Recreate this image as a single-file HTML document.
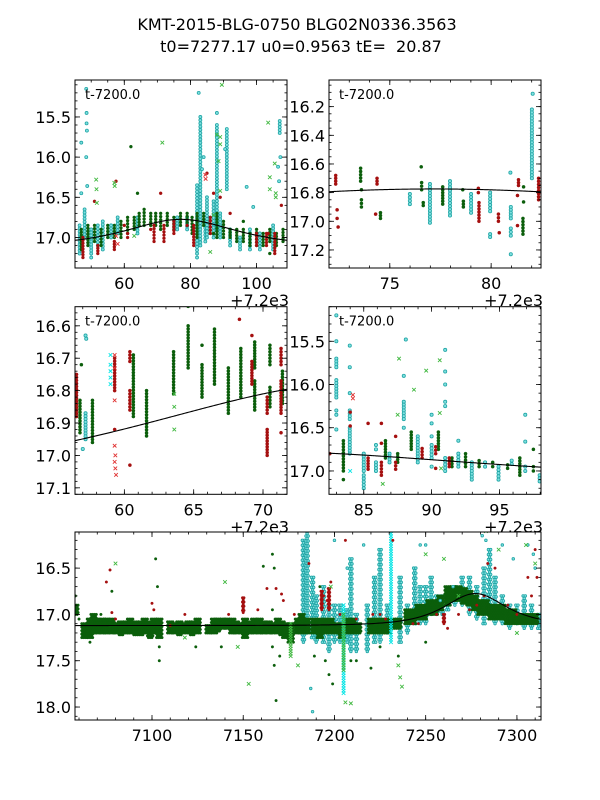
<!DOCTYPE html>
<html><head><meta charset="utf-8"><style>
body{margin:0;background:#fff}
svg{display:block}
text{font-family:"DejaVu Sans","Liberation Sans",sans-serif;fill:#000}
</style></head><body>
<svg id="chart" width="600" height="800" viewBox="0 0 600 800" xmlns="http://www.w3.org/2000/svg">
<rect width="600" height="800" fill="#fff"/>
<text x="297" y="30" font-size="16" text-anchor="middle">KMT-2015-BLG-0750 BLG02N0336.3563</text>
<text x="301" y="52" font-size="16" text-anchor="middle" xml:space="preserve">t0=7277.17 u0=0.9563 tE=  20.87</text>
</svg>
<script>
// model parameters
const t0 = 7277.17, u0 = 0.9563, tE = 20.87, mBase = 17.12;

// ---------- Panel 1 data (t-7200) ----------
const p1GreenStrips = [[47,16.9,17.15],[49,16.85,17.1],[51,16.85,17.05],[53,16.9,17.1],[55,16.85,17.0],[57,16.85,17.0],[59,16.8,17.0],[61,16.75,16.95],[63,16.75,16.9],[64.5,16.7,16.85],[66,16.65,16.85],[68,16.7,16.85],[69.5,16.7,16.85],[71,16.7,16.9],[73,16.7,16.85],[75,16.75,16.9],[77,16.7,16.85],[79,16.7,16.85],[80.5,16.75,16.95],[82,16.7,17.0],[84,16.7,16.85],[86,16.75,16.95],[88,16.7,17.0],[90,16.8,17.0],[92,16.9,17.0],[94,16.9,17.05],[96,16.9,17.05],[98,16.95,17.1],[100,16.9,17.1],[102,16.95,17.1],[104,16.9,17.05],[106,16.95,17.1],[108,16.9,17.05]];
const p1CyanStrips = [[46.5,16.85,17.2],[48,16.65,17.0],[50,16.9,17.2],[52,16.85,17.1],[53.5,16.8,17.15],[56,16.85,17.0],[58,16.75,16.95],[64,16.75,16.95],[76,16.75,16.9],[79,16.75,16.9],[82,16.35,17.2],[83,15.5,17.1],[84.5,16.8,17.05],[85,16.5,17.0],[87,16.55,17.0],[88,15.6,16.9],[89,16.7,17.0],[91,15.65,16.4],[92,16.9,17.1],[95,17.0,17.15],[98,16.9,17.15],[101,16.95,17.15],[105,16.85,17.15],[107,15.55,15.7]];
const p1CyanPts = [[47,15.82],[47,16.45],[48.5,15.15],[48.6,15.45],[48.6,15.58],[48.7,15.67],[48.5,16.0],[48.8,16.36],[56,16.85],[82.5,15.2],[84,16.0],[83.5,16.15],[88,15.45],[90.5,15.9],[97,16.37],[99,16.62],[106.5,16.12],[106.8,16.3],[107.2,16.0],[82,17.25],[50,17.25]];
const p1RedStrips = [[47.5,17.0,17.25],[57,17.05,17.15],[61,16.95,17.0],[69,16.85,17.05],[72,16.85,17.05],[75,16.8,16.95],[81,16.85,17.1],[86,16.75,16.95],[100,16.95,17.1],[103,16.95,17.1],[105.5,16.95,17.2],[52,17.1,17.2]];
const p1RedPts = [[51,16.55],[57.5,16.3],[60,16.85],[68,16.9],[71,16.45],[79,16.85],[85,16.2],[87,16.45],[89,16.5],[92,16.7],[103.5,16.95],[107.5,16.6]];
const p1RedX = [[57.5,16.98],[58,17.08],[84.5,16.22],[84.6,16.27]];
const p1GreenPts = [[62,15.87],[64,16.45],[87,16.95],[96,16.8],[104,17.2]];
const p1GreenX = [[51.5,16.28],[51.6,16.4],[51.7,16.57],[57,16.32],[57.1,16.36],[71.5,15.82],[88,15.72],[89,15.75],[89.5,15.1],[89,15.84],[88.5,16.05],[87,16.72],[89,16.42],[104,16.25],[104,16.4],[105.5,16.08],[105.8,16.45],[105.8,16.5],[86,17.18],[63,16.98],[103.5,15.57]];

// ---------- Panel 2 data ----------
const p2RedStrips = [[72.33,16.68,16.74],[74.37,16.70,16.74],[79.37,16.77,16.8],[79.4,16.87,17.0],[80.36,16.95,17.0],[81.35,16.71,16.75],[82.34,16.7,16.85]];
const p2RedPts = [[72.4,16.92],[72.4,16.98],[72.45,17.04],[74.3,16.95],[80.4,17.08],[81.3,16.82],[81.3,17.03]];
const p2GreenStrips = [[73.56,16.63,16.72],[73.6,16.85,16.9],[74.54,16.94,16.98],[76.57,16.73,16.78],[76.65,16.87,16.89],[77.61,16.76,16.88],[78.63,16.86,16.9],[81.57,16.98,17.09]];
const p2GreenPts = [[73.6,16.78],[76.55,16.62],[78.6,16.78],[81.6,16.76],[81.6,16.865]];
const p2CyanStrips = [[75.99,16.81,16.88],[76.98,16.74,17.01],[77.97,16.72,16.96],[79.01,16.81,16.94],[79.95,16.8,16.93],[79.95,17.09,17.11],[80.97,16.9,16.98],[80.97,17.05,17.1],[82.01,16.22,16.7]];
const p2CyanPts = [[80.95,16.66],[80.97,17.23],[82.05,16.11]];

// ---------- Panel 3 data ----------
const p3GreenStrips = [[56.8,16.83,16.93],[57.7,16.83,16.96],[60.65,16.69,16.88],[61.6,16.80,16.94],[63.55,16.68,16.81],[64.6,16.6,16.73],[65.6,16.72,16.82],[66.5,16.61,16.78],[67.5,16.73,16.87],[68.4,16.67,16.82],[69.4,16.65,16.73],[69.4,16.77,16.86],[70.5,16.66,16.72],[70.5,16.79,16.85],[71.4,16.74,16.84]];
const p3GreenPts = [[56.9,16.72],[65.6,16.66],[64.6,16.54]];
const p3GreenX = [[63.6,16.81],[63.6,16.85],[63.6,16.92]];
const p3RedStrips = [[56.55,16.75,16.88],[59.3,16.7,16.8],[60.4,16.68,16.71],[60.4,16.80,16.86],[69.2,16.71,16.78],[70.3,16.82,16.87],[70.3,16.92,17.0],[71.3,16.67,16.72],[71.3,16.77,16.87]];
const p3RedPts = [[59.3,16.92],[60.4,17.03],[69.2,16.63],[68.3,16.58],[71.3,16.93]];
const p3RedX = [[59.3,16.83],[59.3,16.97],[59.35,17.0],[59.3,17.02],[59.35,17.04],[59.4,17.06],[59.3,16.69],[59.3,16.73]];
const p3CyanStrips = [[57.2,16.87,16.95]];
const p3CyanPts = [[57.2,16.63],[57.25,16.64],[57.0,16.98]];
const p3BrightX = [[59.0,16.69],[59.0,16.72],[59.0,16.74],[59.0,16.76],[59.0,16.78]];

// ---------- Panel 4 data ----------
const p4CyanStrips = [[82.98,15.7,15.8],[82.98,15.95,16.15],[82.98,16.3,16.35],[83.97,16.3,16.4],[83.97,16.5,16.8],[85,16.8,17.0],[85,17.05,17.2],[85.9,16.7,16.75],[85.9,16.9,17.0],[86.9,16.8,16.9],[87.95,16.2,16.4],[88.98,16.6,16.9],[90,16.7,16.85],[91.0,16.2,16.25],[91.0,16.85,17.0],[91.97,16.8,16.95],[92.96,16.9,17.1],[93.94,16.9,16.95],[94.93,16.95,17.1],[95.9,16.88,16.92],[96.9,16.95,17.0],[97.96,17.05,17.12]];
const p4CyanPts = [[82.98,15.2],[82.98,15.5],[82.98,16.52],[83.97,15.55],[83.97,15.8],[83.97,16.1],[87.95,15.9],[87.95,16.5],[88.1,15.48],[90,16.35],[90,16.45],[90,16.6],[90,16.95],[91.0,15.6],[91.0,15.85],[91.0,16.0],[91.97,16.65],[96.9,16.35],[96.9,16.66]];
const p4GreenStrips = [[83.5,16.65,17.0],[86.6,16.65,16.85],[87.5,16.8,16.9],[88.5,16.55,16.75],[90.5,16.55,16.75],[91.5,16.85,16.95],[92.5,16.8,16.95],[93.5,16.88,16.95],[94.5,16.9,16.95],[95.6,16.93,16.97],[96.5,16.85,17.05],[97.5,16.95,17.0]];
const p4GreenPts = [[83.5,17.1],[97.5,16.75]];
const p4RedStrips = [[85.32,16.85,16.98],[86.3,16.9,17.05],[87.35,16.9,16.98],[89.3,16.74,16.85],[90.3,16.72,16.8],[91.3,16.85,16.95]];
const p4RedPts = [[85.32,16.45],[86.3,16.68],[86.3,16.45],[87.35,16.6],[90.3,16.97],[84.0,16.32],[84.0,16.48],[82.5,16.8]];
const p4RedX = [[84.2,16.12],[84.2,16.16]];
const p4GreenX = [[87.6,15.7],[89.5,15.05],[88.7,16.06],[89.6,15.84],[90.6,15.72],[90.6,16.33],[87.5,16.35],[86.4,17.15],[90.7,16.97]];
const p4BrightX = [[84.0,17.0]];

// ---------- Panel 5 data (full light curve, HJD') ----------
const p5GreenStrips = [[7058,16.9,17.0],[7063,17.1,17.25],[7066,17.05,17.25],[7068,17.0,17.2],[7070,17.05,17.2],[7073,17.05,17.2],[7075,17.05,17.2],[7078,17.05,17.2],[7080,17.1,17.2],[7083,17.08,17.22],[7086,17.08,17.2],[7088,17.05,17.2],[7091,17.08,17.22],[7094,17.08,17.22],[7096,17.05,17.2],[7099,17.08,17.25],[7101,17.05,17.2],[7104,17.05,17.25],[7110,17.08,17.2],[7112,17.1,17.2],[7115,17.08,17.22],[7117,17.1,17.2],[7120,17.08,17.2],[7122,17.08,17.22],[7125,17.05,17.2],[7131,17.12,17.2],[7134,17.05,17.2],[7136,17.05,17.18],[7139,17.05,17.15],[7141,17.05,17.15],[7144,17.05,17.2],[7146,17.08,17.2],[7149,17.1,17.2],[7151,17.05,17.25],[7154,17.08,17.2],[7156,17.05,17.2],[7159,17.05,17.2],[7161,17.08,17.2],[7164,17.08,17.2],[7166,17.1,17.2],[7169,17.05,17.2],[7171,17.08,17.22],[7173,17.1,17.25],[7176,17.1,17.3],[7180,17.05,17.2],[7182,17.0,17.2],[7185,17.05,17.2],[7189,17.05,17.2],[7192,17.05,17.25],[7195,17.05,17.2],[7198,17.05,17.2],[7201,17.1,17.2],[7204,17.1,17.25],[7207,17.05,17.2],[7210,17.05,17.2],[7213,17.1,17.2],[7220,17.05,17.2],[7223,17.05,17.2],[7226,17.05,17.2],[7229,17.05,17.2],[7232,17.05,17.15],[7235,17.05,17.15],[7240,16.95,17.1],[7243,16.95,17.1],[7246,16.9,17.05],[7249,16.9,17.05],[7252,16.85,17.0],[7255,16.85,17.0],[7258,16.8,16.95],[7262,16.7,16.9],[7265,16.7,16.85],[7268,16.7,16.85],[7271,16.72,16.88],[7274,16.75,16.9],[7277,16.8,16.95],[7280,16.85,17.0],[7283,16.85,17.0],[7286,16.9,17.05],[7289,16.9,17.05],[7292,16.9,17.05],[7295,16.95,17.1],[7298,16.95,17.1],[7301,17.0,17.1],[7304,17.0,17.1],[7307,17.0,17.1],[7310,17.0,17.1]];
const p5CyanStrips = [[7183,16.2,17.3],[7185,16.1,17.2],[7188,16.6,17.25],[7190,16.8,17.3],[7194,16.7,17.3],[7197,16.9,17.4],[7200,16.9,17.3],[7203,16.9,17.3],[7207,16.95,17.3],[7209,16.4,17.4],[7212,17.0,17.4],[7218,16.9,17.4],[7222,16.6,17.3],[7225,16.3,17.3],[7229,16.9,17.2],[7236,16.6,17.3],[7240,16.9,17.2],[7244,16.5,17.1],[7247,16.7,17.1],[7250,16.7,17.1],[7253,16.6,17.0],[7256,16.8,17.0],[7259,16.8,17.0],[7262,16.8,16.95],[7266,16.7,16.9],[7270,16.6,16.9],[7274,16.6,17.0],[7278,16.7,17.05],[7282,16.5,17.1],[7285,16.3,17.0],[7288,16.6,17.1],[7292,16.8,17.1],[7296,16.9,17.15],[7300,16.9,17.1],[7304,16.8,17.15],[7308,16.9,17.15],[7312,17.0,17.15]];
const p5CyanPts = [[7187,17.8],[7188,18.05],[7207,16.5],[7201,17.05],[7200,16.2],[7216,16.25],[7247,16.25],[7250,16.25],[7258,16.85],[7265,16.7],[7281,16.15],[7283,16.2],[7292,16.25],[7298,16.4],[7306,16.25],[7309,16.35],[7310,16.5]];
const p5BrightStrips = [[7205,16.9,17.85],[7231,16.1,17.3]];
const p5LightGreenStrips = [[7205,17.0,17.6],[7176,17.1,17.45]];
const p5RedStrips = [[7193,16.75,16.95],[7197,16.72,16.95],[7260,17.0,17.1],[7150,16.82,16.98]];
const p5RedPts = [[7075,16.65],[7077,16.52],[7078,16.98],[7080,17.05],[7100,16.88],[7101,16.95],[7110,17.12],[7118,17.0],[7142,17.0],[7158,16.95],[7163,16.72],[7168,16.72],[7171,16.78],[7172,16.85],[7178,17.0],[7186,16.45],[7194,16.8],[7196,16.85],[7198,16.65],[7203,17.0],[7206,16.2],[7212,17.05],[7221,17.0],[7225,17.0],[7228,17.05],[7232,16.2],[7243,17.1],[7246,17.1],[7256,17.0],[7262,17.15],[7268,17.0],[7274,16.95],[7278,16.9],[7282,16.8],[7284,16.45],[7288,16.5],[7295,16.9],[7300,17.0],[7306,16.6],[7308,16.8],[7310,16.3],[7311,16.6]];
const p5GreenPts = [[7058,16.8],[7060,17.05],[7066,17.3],[7072,17.0],[7078,16.75],[7102,16.4],[7103,16.7],[7104,17.35],[7104,17.5],[7124,17.35],[7138,17.35],[7161,16.48],[7166,16.35],[7167,16.5],[7166,17.35],[7167,17.55],[7168,17.93],[7170,17.45],[7166,16.95],[7189,17.45],[7192,16.7],[7195,17.5],[7197,17.65],[7199,17.75],[7209,17.5],[7212,17.5],[7220,17.58],[7225,17.35],[7235,17.45],[7250,17.3]];
const p5GreenX = [[7080,16.45],[7118,17.25],[7140,16.65],[7147,17.35],[7153,17.75],[7180,17.55],[7198,16.7],[7206,17.95],[7209,17.96],[7236,17.68],[7237,17.78],[7235,17.55],[7250,16.35],[7260,16.4],[7268,16.8],[7283,16.1],[7290,16.3],[7305,16.25],[7310,16.45],[7300,17.2]];

// ---------- tick labels ----------
const p1XTicks = [60,80,100], p1YTicks = [15.5,16.0,16.5,17.0];
const p2XTicks = [75,80], p2YTicks = [16.2,16.4,16.6,16.8,17.0,17.2];
const p3XTicks = [60,65,70], p3YTicks = [16.6,16.7,16.8,16.9,17.0,17.1];
const p4XTicks = [85,90,95], p4YTicks = [15.5,16.0,16.5,17.0];
const p5XTicks = [7100,7150,7200,7250,7300], p5YTicks = [16.5,17.0,17.5,18.0];

const NS = 'http://www.w3.org/2000/svg';
const svg = document.getElementById('chart');
const C = {green:'#0b5e0b', red:'#a50f0f', cyanFill:'#7fe0e0', cyanStroke:'#1fa5a5', bright:'#00e5e5', lgreen:'#3fb83f', lred:'#e03030'};

function mk(tag, attrs, parent){ const e=document.createElementNS(NS,tag); for(const k in attrs) e.setAttribute(k,attrs[k]); (parent||svg).appendChild(e); return e; }
function modelMag(t){ const tau=(t-t0)/tE; const u=Math.sqrt(u0*u0+tau*tau); const A=(u*u+2)/(u*Math.sqrt(u*u+4)); return mBase-2.5*Math.log10(A); }

function panel(cfg){
  const {name,x0,x1,y0,y1,xd,yd,offset}=cfg;
  const sx=v=>x0+(v-xd[0])/(xd[1]-xd[0])*(x1-x0);
  const sy=v=>y0+(v-yd[0])/(yd[1]-yd[0])*(y1-y0);
  const g=mk('g',{});
  
  
  mk('rect',{x:x0,y:y0,width:x1-x0,height:y1-y0,fill:'#fff'},g);
  const cid='clip-'+name;
  const cp=mk('clipPath',{id:cid},g); mk('rect',{x:x0,y:y0,width:x1-x0,height:y1-y0},cp);
  const plot=mk('g',{'clip-path':'url(#'+cid+')'},g);
  const r=cfg.r||1.6;
  function dot(t,m,kind){
    const x=sx(t), y=sy(m); let e;
    if(kind==='green'||kind==='red'){ e=mk('circle',{cx:x,cy:y,r:r,fill:C[kind],stroke:C[kind],'stroke-width':0.4},plot); }
    else if(kind==='cyan'){ e=mk('circle',{cx:x,cy:y,r:r,fill:C.cyanFill,stroke:C.cyanStroke,'stroke-width':0.8},plot); }
    else { const col=kind==='gx'?C.lgreen:(kind==='rx'?C.lred:C.bright); e=mk('path',{d:`M${x-1.8},${y-1.8}L${x+1.8},${y+1.8}M${x-1.8},${y+1.8}L${x+1.8},${y-1.8}`,stroke:col,'stroke-width':0.9,fill:'none'},plot); }
    
    
  }
  // strips: vertical runs of points; optional horizontal spread hw (days) with step dx, alternating rows offset
  function strips(arr,kind,sp,hw,dx){ hw=hw||0; dx=dx||1; arr.forEach(s=>{ const a=sy(s[1]),b=sy(s[2]); const n=Math.max(1,Math.round((b-a)/sp)); let c=0; for(let o=-hw;o<=hw+1e-9;o+=dx,c++){ for(let i=0;i<=n;i++){ if(hw>0 && (i+c)%2) continue; dot(s[0]+o, s[1]+(s[2]-s[1])*i/n, kind); } } }); }
  function pts(arr,kind){ arr.forEach(p=>dot(p[0],p[1],kind)); }
  cfg.draw(strips,pts);
  let d=''; for(let i=0;i<=200;i++){ const xv=xd[0]+(xd[1]-xd[0])*i/200; d+=(i?'L':'M')+sx(xv).toFixed(2)+','+sy(modelMag(xv+(cfg.modelShift||0))).toFixed(2); }
  const ml=mk('path',{d:d,fill:'none',stroke:'#000','stroke-width':1.1},plot);
  
  
  const fr=mk('rect',{x:x0,y:y0,width:x1-x0,height:y1-y0,fill:'none',stroke:'#000','stroke-width':1},g);
  
  
  const tg=mk('g',{stroke:'#000','stroke-width':0.8},g);
  for(let v=Math.ceil(xd[0]/cfg.xm)*cfg.xm; v<=xd[1]; v+=cfg.xm){ const x=sx(v); mk('line',{x1:x,y1:y1,x2:x,y2:y1-2.5},tg); mk('line',{x1:x,y1:y0,x2:x,y2:y0+2.5},tg); }
  for(let v=Math.ceil(yd[0]/cfg.ym-1e-9)*cfg.ym; v<=yd[1]; v+=cfg.ym){ const y=sy(v); mk('line',{x1:x0,y1:y,x2:x0+2.5,y2:y},tg); mk('line',{x1:x1,y1:y,x2:x1-2.5,y2:y},tg); }
  cfg.xt.forEach(v=>{ const x=sx(v); mk('line',{x1:x,y1:y1,x2:x,y2:y1-5},tg); mk('line',{x1:x,y1:y0,x2:x,y2:y0+5},tg);
    const t=mk('text',{x:x,y:y1+21,'font-size':16,'text-anchor':'middle'},g); t.textContent=v;
    
     });
  cfg.yt.forEach(v=>{ const y=sy(v); mk('line',{x1:x0,y1:y,x2:x0+5,y2:y},tg); mk('line',{x1:x1,y1:y,x2:x1-5,y2:y},tg);
    const t=mk('text',{x:x0-4,y:y+6,'font-size':16,'text-anchor':'end'},g); t.textContent=v.toFixed(1);
    
     });
  if(offset){ const t=mk('text',{x:x1+2,y:y1+38,'font-size':16,'text-anchor':'end'},g); t.textContent='+7.2e3';
    
    
    const l=mk('text',{x:x0+10,y:y0+19,'font-size':13},g); l.textContent='t-7200.0';
    
     }
}

panel({name:'panel-1',x0:75,x1:287,y0:80,y1:268,xd:[45.1,109.2],yd:[15.04,17.38],xm:5,ym:0.1,xt:p1XTicks,yt:p1YTicks,offset:true,modelShift:7200,r:1.5,
 draw:(s,p)=>{ s(p1CyanStrips,'cyan',3.2); s(p1GreenStrips,'green',3); s(p1RedStrips,'red',3); p(p1CyanPts,'cyan'); p(p1RedPts,'red'); p(p1GreenPts,'green'); p(p1RedX,'rx'); p(p1GreenX,'gx'); }});
panel({name:'panel-2',x0:329,x1:541,y0:80,y1:268,xd:[72.0,82.46],yd:[16.014,17.326],xm:1,ym:0.05,xt:p2XTicks,yt:p2YTicks,offset:true,modelShift:7200,
 draw:(s,p)=>{ s(p2CyanStrips,'cyan',3); s(p2GreenStrips,'green',3); s(p2RedStrips,'red',3); p(p2CyanPts,'cyan'); p(p2GreenPts,'green'); p(p2RedPts,'red'); }});
panel({name:'panel-3',x0:75,x1:287,y0:306.7,y1:494.3,xd:[56.44,71.73],yd:[16.541,17.12],xm:1,ym:0.02,xt:p3XTicks,yt:p3YTicks,offset:true,modelShift:7200,
 draw:(s,p)=>{ s(p3CyanStrips,'cyan',3); s(p3GreenStrips,'green',3); s(p3RedStrips,'red',3); p(p3CyanPts,'cyan'); p(p3GreenPts,'green'); p(p3RedPts,'red'); p(p3RedX,'rx'); p(p3GreenX,'gx'); p(p3BrightX,'bx'); }});
panel({name:'panel-4',x0:329,x1:541,y0:306.7,y1:494.3,xd:[82.44,98.06],yd:[15.10,17.27],xm:1,ym:0.1,xt:p4XTicks,yt:p4YTicks,offset:true,modelShift:7200,
 draw:(s,p)=>{ s(p4CyanStrips,'cyan',3); s(p4GreenStrips,'green',3); s(p4RedStrips,'red',3); p(p4CyanPts,'cyan'); p(p4GreenPts,'green'); p(p4RedPts,'red'); p(p4RedX,'rx'); p(p4GreenX,'gx'); p(p4BrightX,'bx'); }});
panel({name:'panel-5',x0:75,x1:541,y0:532,y1:720,xd:[7057.8,7313.2],yd:[16.11,18.14],xm:10,ym:0.1,xt:p5XTicks,yt:p5YTicks,offset:false,r:1.3,
 draw:(s,p)=>{ s(p5CyanStrips,'cyan',2.5,0.6,0.6); s(p5GreenStrips,'green',1.8,1.5,0.5); s(p5RedStrips,'red',2,0.4,0.4); s(p5BrightStrips,'bx',2.5); s(p5LightGreenStrips,'gx',2.5); p(p5CyanPts,'cyan'); p(p5RedPts,'red'); p(p5GreenPts,'green'); p(p5GreenX,'gx'); }});
</script>
</body></html>
